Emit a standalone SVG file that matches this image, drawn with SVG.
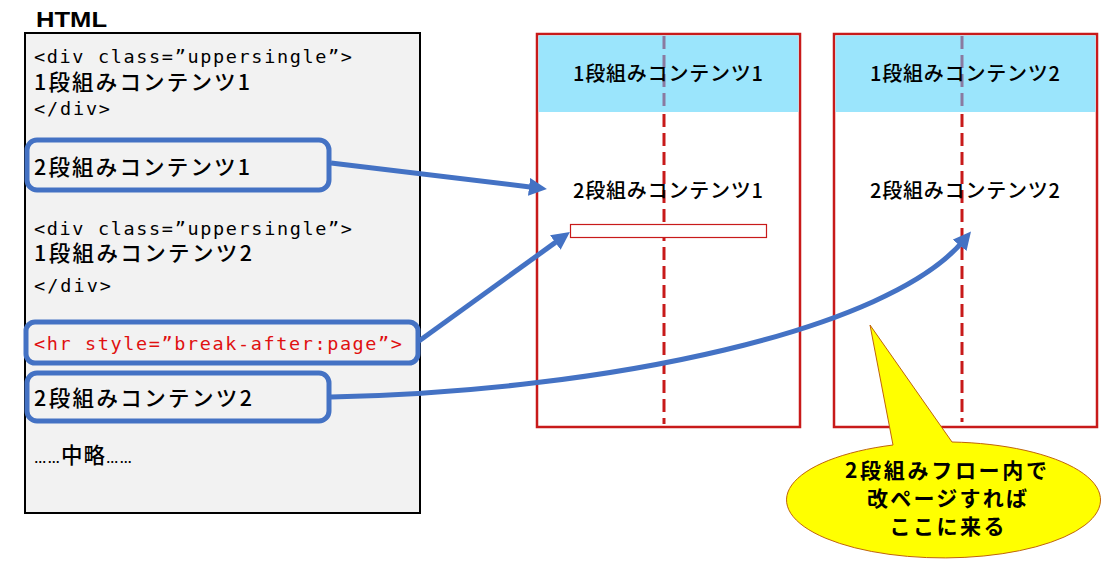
<svg xmlns="http://www.w3.org/2000/svg" width="1111" height="565" viewBox="0 0 1111 565">
<style>
.mono{font-family:"DejaVu Sans Mono","Liberation Mono","Noto Sans CJK JP",monospace;font-size:18.5px;fill:#000}
.jp{font-family:"Noto Sans CJK JP","Noto Sans",sans-serif;font-size:21.5px;font-weight:500;fill:#000}
.pg{font-family:"Noto Sans CJK JP","Noto Sans",sans-serif;font-size:20px;font-weight:500;fill:#000;text-anchor:middle}
.call{font-family:"Noto Sans CJK JP","Noto Sans",sans-serif;font-size:21px;font-weight:bold;fill:#000;text-anchor:middle}
.hl{fill:none;stroke:#4472c4;stroke-width:5}
.page{fill:#fff;stroke:#c81a1a;stroke-width:2.5}
.hdr{fill:#9be5fc}
.col{stroke:#c81a1a;stroke-width:3;stroke-dasharray:13 6;fill:none}
.colh{stroke:#8a7aa0;stroke-width:3;stroke-dasharray:13 6;fill:none}
.conn{fill:none;stroke:#4472c4;stroke-width:5}
.dots{font-family:"Liberation Sans",Arial,sans-serif;font-size:12.5px;font-weight:bold;fill:#000}
</style>
<defs>
<marker id="ah" markerUnits="userSpaceOnUse" markerWidth="20" markerHeight="20" refX="7" refY="9" orient="auto">
<path d="M0,0 L18,9 L0,18 z" fill="#4472c4"/>
</marker>
</defs>

<g id="html-label">
<text x="36" y="27" font-family="Liberation Sans, Arial, sans-serif" font-size="22" font-weight="bold" fill="#000" textLength="71" lengthAdjust="spacingAndGlyphs">HTML</text>
</g>

<g id="html-box">
<rect x="25" y="33" width="395" height="480" fill="#f2f2f2" stroke="#000" stroke-width="2"/>
<text class="mono" x="34" y="63" textLength="318" lengthAdjust="spacing">&lt;div class=”uppersingle”&gt;</text>
<text class="jp" x="34" y="90" textLength="216" lengthAdjust="spacing">1段組みコンテンツ1</text>
<text class="mono" x="34" y="115" textLength="76" lengthAdjust="spacing">&lt;/div&gt;</text>
<text class="mono" x="34" y="235" textLength="318" lengthAdjust="spacing">&lt;div class=”uppersingle”&gt;</text>
<text class="jp" x="34" y="261" textLength="218" lengthAdjust="spacing">1段組みコンテンツ2</text>
<text class="mono" x="34" y="292" textLength="77" lengthAdjust="spacing">&lt;/div&gt;</text>
<text x="34" y="463" fill="#000" textLength="98" lengthAdjust="spacing"><tspan class="dots">……</tspan><tspan class="jp" font-size="22">中略</tspan><tspan class="dots">……</tspan></text>
</g>

<g id="block-2col-1">
<rect class="hl" x="27" y="140" width="302" height="50" rx="10"/>
<text class="jp" x="34" y="175" textLength="216" lengthAdjust="spacing">2段組みコンテンツ1</text>
</g>

<g id="block-hr">
<rect class="hl" x="26" y="322" width="392" height="41" rx="9"/>
<text class="mono" x="34" y="350" style="fill:#e01010" textLength="368" lengthAdjust="spacing">&lt;hr style=”break-after:page”&gt;</text>
</g>

<g id="block-2col-2">
<rect class="hl" x="27" y="373" width="302" height="48" rx="10"/>
<text class="jp" x="34" y="406" textLength="218" lengthAdjust="spacing">2段組みコンテンツ2</text>
</g>

<g id="page-1">
<rect class="page" x="537" y="34" width="263" height="393"/>
<rect class="hdr" x="538.5" y="35.5" width="260" height="76.5"/>
<line class="colh" x1="664" y1="36" x2="664" y2="112"/>
<line class="col" x1="664" y1="114" x2="664" y2="424"/>
<text class="pg" x="668" y="81" textLength="190" lengthAdjust="spacing">1段組みコンテンツ1</text>
<text class="pg" x="668" y="198" textLength="190" lengthAdjust="spacing">2段組みコンテンツ1</text>
<rect x="570.5" y="224.5" width="196" height="13" fill="#fff" stroke="#c81a1a" stroke-width="1.2"/>
</g>

<g id="page-2">
<rect class="page" x="834" y="34" width="263" height="393"/>
<rect class="hdr" x="835.5" y="35.5" width="260" height="76.5"/>
<line class="colh" x1="962" y1="36" x2="962" y2="112"/>
<line class="col" x1="962" y1="114" x2="962" y2="422"/>
<text class="pg" x="965" y="81" textLength="190" lengthAdjust="spacing">1段組みコンテンツ2</text>
<text class="pg" x="965" y="198" textLength="190" lengthAdjust="spacing">2段組みコンテンツ2</text>
</g>

<g id="connectors">
<path class="conn" d="M331,163 L536,187.7" marker-end="url(#ah)"/>
<path class="conn" d="M419,341 L561,238.4" marker-end="url(#ah)"/>
<path class="conn" d="M331,397 C610,391 890,330 964,240" marker-end="url(#ah)"/>
</g>

<g id="callout">
<path d="M893,445 L870,325 L952,442 A157 58 0 1 1 893,445 Z" fill="#ffff00" stroke="#c0640a" stroke-width="1"/>
<text class="call" x="946" y="478" textLength="202" lengthAdjust="spacing">2段組みフロー内で</text>
<text class="call" x="947" y="506" textLength="160" lengthAdjust="spacing">改ページすれば</text>
<text class="call" x="947" y="534" textLength="115" lengthAdjust="spacing">ここに来る</text>
</g>
</svg>
